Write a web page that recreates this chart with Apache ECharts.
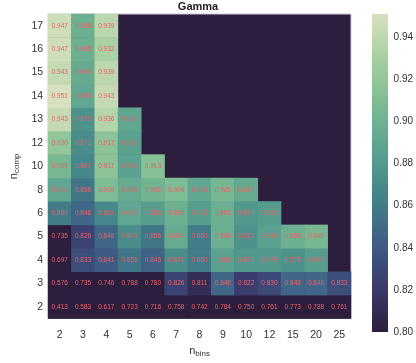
<!DOCTYPE html>
<html>
<head>
<meta charset="utf-8">
<script src="https://cdn.jsdelivr.net/npm/echarts@6/dist/echarts.min.js"></script>
<style>
  html, body { margin: 0; padding: 0; background: #fff; }
  #main { width: 416px; height: 363px; }
</style>
</head>
<body>
<div id="main"></div>
<script>
const nBins = ['2', '3', '4', '5', '6', '7', '8', '9', '10', '12', '15', '20', '25'];
const nComp = ['2', '3', '4', '5', '6', '8', '10', '12', '13', '14', '15', '16', '17'];

// one row per n_comp, values start at n_bins = 2; missing cells are left out
const row2 = [0.413, 0.583, 0.617, 0.723, 0.716, 0.758, 0.742, 0.784, 0.750, 0.761, 0.773, 0.788, 0.761];
const row3 = [0.576, 0.735, 0.746, 0.788, 0.780, 0.826, 0.811, 0.848, 0.822, 0.830, 0.848, 0.848, 0.833];
const row4 = [0.697, 0.833, 0.841, 0.856, 0.845, 0.871, 0.860, 0.886, 0.879, 0.879, 0.875, 0.883];
const row5 = [0.735, 0.826, 0.848, 0.871, 0.856, 0.894, 0.860, 0.898, 0.875, 0.886, 0.898, 0.905];
const row6 = [0.860, 0.848, 0.867, 0.890, 0.883, 0.898, 0.883, 0.898, 0.879, 0.883];
const row8 = [0.890, 0.856, 0.909, 0.894, 0.902, 0.909, 0.890, 0.905, 0.894];
const row10 = [0.905, 0.867, 0.917, 0.886, 0.913];
const row12 = [0.920, 0.871, 0.917, 0.886];
const row13 = [0.943, 0.875, 0.936, 0.890];
const row14 = [0.951, 0.890, 0.943];
const row15 = [0.943, 0.894, 0.939];
const row16 = [0.947, 0.898, 0.932];
const row17 = [0.947, 0.898, 0.939];
const rows = [row2, row3, row4, row5, row6, row8, row10, row12, row13, row14, row15, row16, row17];

const vMin = 0.80;
const vMax = 0.951;
const cmap = ['#2d1e3e', '#3b3b6c', '#3f5f86', '#438489', '#5aa28f', '#7bbb93', '#a4cf9f', '#d8e1bf'];

const data = [];
rows.forEach((r, yi) => {
  r.forEach((v, xi) => data.push([xi, yi, v]));
});

const font = 'Liberation Sans, Arial, sans-serif';
const plot = { left: 35, top: 14, right: 351, bottom: 321 };
const cbar = { left: 372, top: 14, width: 16, height: 318 };

const chart = echarts.init(document.getElementById('main'), null, { renderer: 'canvas' });

chart.setOption({
  animation: false,
  backgroundColor: '#fff',
  title: {
    text: 'Gamma',
    left: (plot.left + plot.right) / 2,
    top: 0,
    padding: [1, 5, 5, 5],
    textAlign: 'center',
    textStyle: { fontSize: 11, fontWeight: 'bold', color: '#222', fontFamily: font }
  },
  grid: [
    {
      left: plot.left, top: plot.top,
      width: plot.right - plot.left, height: plot.bottom - plot.top,
      show: true, backgroundColor: cmap[0], borderColor: '#c8c8d4', borderWidth: 1
    },
    {
      left: cbar.left, top: cbar.top, width: cbar.width, height: cbar.height
    }
  ],
  xAxis: [
    {
      type: 'category', data: nBins, gridIndex: 0,
      axisLine: { show: false }, axisTick: { show: false },
      axisLabel: { fontSize: 10.5, color: '#333', margin: 11, fontFamily: font },
      name: '{n|n}{s|bins}', nameLocation: 'middle', nameGap: 23,
      nameTextStyle: {
        rich: {
          n: { fontSize: 11, color: '#333', fontFamily: font },
          s: { fontSize: 8, color: '#333', fontFamily: font, padding: [6, 0, 0, 0] }
        }
      }
    },
    { gridIndex: 1, type: 'value', show: false }
  ],
  yAxis: [
    {
      type: 'category', data: nComp, gridIndex: 0,
      axisLine: { show: false }, axisTick: { show: false },
      axisLabel: { fontSize: 10.5, color: '#333', margin: 5, fontFamily: font },
      name: '{n|n}{s|comp}', nameLocation: 'middle', nameGap: 25, nameRotate: 90,
      nameTextStyle: {
        rich: {
          n: { fontSize: 11, color: '#333', fontFamily: font },
          s: { fontSize: 8, color: '#333', fontFamily: font, padding: [6, 0, 0, 0] }
        }
      }
    },
    {
      type: 'value', gridIndex: 1, position: 'right',
      min: vMin, max: vMax, interval: 0.02,
      splitLine: { show: false }, axisLine: { show: false }, axisTick: { show: false },
      axisLabel: {
        fontSize: 10, color: '#333', margin: 8, fontFamily: font,
        formatter: v => (v > 0.945 ? '' : v.toFixed(2))
      }
    }
  ],
  visualMap: {
    show: false, type: 'continuous', seriesIndex: 0,
    min: vMin, max: vMax,
    inRange: { color: cmap },
    outOfRange: { color: cmap[0] }
  },
  graphic: [
    {
      type: 'rect',
      shape: { x: cbar.left, y: cbar.top, width: cbar.width, height: cbar.height },
      style: {
        fill: new echarts.graphic.LinearGradient(0, 1, 0, 0,
          cmap.map((c, i) => ({ offset: i / (cmap.length - 1), color: c })))
      },
      z: -1
    }
  ],
  series: [
    {
      type: 'heatmap', xAxisIndex: 0, yAxisIndex: 0,
      data: data,
      label: {
        show: true, fontSize: 6.5, color: '#ef5f68', fontFamily: font,
        formatter: p => p.value[2].toFixed(3)
      },
      itemStyle: { borderWidth: 0 }
    }
  ]
});
</script>
</body>
</html>
